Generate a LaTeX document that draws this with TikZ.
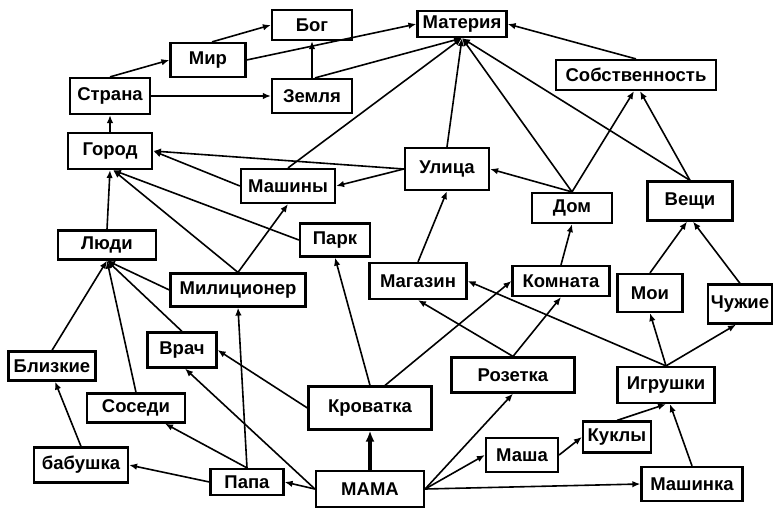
\documentclass[tikz,border=0pt]{standalone}
\usepackage{fontspec}
\setmainfont{Liberation Sans}
\usetikzlibrary{arrows.meta}

\begin{document}
\begin{tikzpicture}[x=1pt, y=-1pt,
	box/.style={draw, line width=2.2pt, inner sep=0pt, font=\bfseries\fontsize{18.5}{18.5}\selectfont},
	link/.style={line width=1.6pt, -{Latex[length=8pt,width=6.5pt]}}]
	\useasboundingbox (0,0) rectangle (773,508);
	% upper part
	\node[box, minimum width=80, minimum height=30] (bog) at (312,25) {Бог};
	\node[box, minimum width=75, minimum height=34] (mir) at (208,60) {Мир};
	\node[box, minimum width=80, minimum height=36] (strana) at (110,96) {Страна};
	\node[box, minimum width=80, minimum height=34] (zemlya) at (312,96) {Земля};
	\node[box, minimum width=89, minimum height=26] (materiya) at (462,24) {Материя};
	\node[box, minimum width=160, minimum height=30] (sobstv) at (636,75) {Собственность};
	\node[box, minimum width=84, minimum height=36] (gorod) at (110,151) {Город};
	\node[box, minimum width=94, minimum height=34] (mashiny) at (288,186) {Машины};
	\node[box, minimum width=84, minimum height=42] (ulica) at (447,169) {Улица};
	\node[box, minimum width=80, minimum height=30] (dom) at (572,208) {Дом};
	\node[box, minimum width=85, minimum height=39] (veshchi) at (690,201) {Вещи};
	\node[box, minimum width=70, minimum height=33] (park) at (335,240) {Парк};
	\node[box, minimum width=98, minimum height=29] (lyudi) at (107,245) {Люди};
	% middle
	\node[box, minimum width=135, minimum height=33] (milic) at (238,290) {Милиционер};
	\node[box, minimum width=97, minimum height=36] (magazin) at (418,281) {Магазин};
	\node[box, minimum width=97, minimum height=30] (komnata) at (561,281) {Комната};
	\node[box, minimum width=65, minimum height=38] (moi) at (650,293) {Мои};
	\node[box, minimum width=64, minimum height=39] (chuzhie) at (740,304) {Чужие};
	\node[box, minimum width=69, minimum height=35] (vrach) at (182,350) {Врач};
	\node[box, minimum width=87, minimum height=29] (blizkie) at (52,366) {Близкие};
	\node[box, minimum width=123, minimum height=35] (rozetka) at (513,375) {Розетка};
	\node[box, minimum width=97, minimum height=36] (igrushki) at (666,385) {Игрушки};
	\node[box, minimum width=98, minimum height=29] (sosedi) at (136,408) {Соседи};
	\node[box, minimum width=123, minimum height=43] (krovatka) at (370,408) {Кроватка};
	% bottom
	\node[box, minimum width=68, minimum height=31] (kukly) at (617,437) {Куклы};
	\node[box, minimum width=72, minimum height=34] (masha) at (522,455) {Маша};
	\node[box, minimum width=94, minimum height=35] (babushka) at (81,465) {бабушка};
	\node[box, minimum width=73, minimum height=26] (papa) at (247,482) {Папа};
	\node[box, minimum width=101, minimum height=34] (mashinka) at (692,484) {Машинка};
	\node[box, minimum width=108, minimum height=36] (mama) at (370,489) {МАМА};

	\draw[link] ([xshift=4]mir.north) -- (bog.west);
	\draw[link] (strana.north) -- (mir.west);
	\draw[link] (strana.east) -- (zemlya.west);
	\draw[link] (zemlya.north) -- (bog.south);
	\draw[link] (mir.east) -- (materiya.west);
	\draw[link] ([xshift=3]zemlya.north) -- (materiya.south);
	\draw[link] (mashiny.north) -- (materiya.south);
	\draw[link] (ulica.north) -- (materiya.south);
	\draw[link] (dom.north) -- (materiya.south);
	\draw[link] (veshchi.north) -- (materiya.south);
	\draw[link] (sobstv.north) -- (materiya.east);
	\draw[link] (dom.north) -- ([xshift=-2]sobstv.south);
	\draw[link] (veshchi.north) -- ([xshift=4]sobstv.south);
	\draw[link] (ulica.west) -- (mashiny.east);
	\draw[link] (ulica.west) -- (gorod.east);
	\draw[link] (mashiny.west) -- (gorod.east);
	\draw[link] (gorod.north) -- (strana.south);
	\draw[link] (lyudi.north) -- (gorod.south);
	\draw[link] (park.west) -- ([xshift=3]gorod.south);
	\draw[link] (milic.north) -- ([xshift=3]gorod.south);
	\draw[link] (milic.north) -- (mashiny.south);
	\draw[link] (milic.west) -- (lyudi.south);
	\draw[link] (vrach.north) -- (lyudi.south);
	\draw[link] (sosedi.north) -- (lyudi.south);
	\draw[link] (blizkie.north) -- (lyudi.south);
	\draw[link] (babushka.north) -- ([xshift=3]blizkie.south);
	\draw[link] (papa.west) -- (babushka.east);
	\draw[link] (papa.north) -- ([xshift=29]sosedi.south);
	\draw[link] (papa.north) -- (milic.south);
	\draw[link] (mama.west) -- (papa.east);
	\draw[link] (mama.west) -- ([xshift=3]vrach.south);
	\draw[link] (krovatka.west) -- (vrach.east);
	\draw[line width=3.2pt, -{Latex[length=11pt,width=9pt]}] (mama.north) -- (krovatka.south);
	\draw[link] (krovatka.north) -- (park.south);
	\draw[link] ([xshift=15]krovatka.north) -- (komnata.west);
	\draw[link] (mama.east) -- (rozetka.south);
	\draw[link] (mama.east) -- (masha.west);
	\draw[link] (mama.east) -- (mashinka.west);
	\draw[link] (masha.east) -- (kukly.west);
	\draw[link] (kukly.north) -- (igrushki.south);
	\draw[link] (mashinka.north) -- ([xshift=4]igrushki.south);
	\draw[link] (igrushki.north) -- (moi.south);
	\draw[link] (igrushki.north) -- ([xshift=-4]chuzhie.south);
	\draw[link] (igrushki.north) -- (magazin.east);
	\draw[link] (rozetka.north) -- (magazin.south);
	\draw[link] (rozetka.north) -- (komnata.south);
	\draw[link] (magazin.north) -- (ulica.south);
	\draw[link] (komnata.north) -- (dom.south);
	\draw[link] (dom.north) -- (ulica.east);
	\draw[link] (moi.north) -- ([xshift=-3]veshchi.south);
	\draw[link] (chuzhie.north) -- ([xshift=3]veshchi.south);
\end{tikzpicture}
\end{document}
